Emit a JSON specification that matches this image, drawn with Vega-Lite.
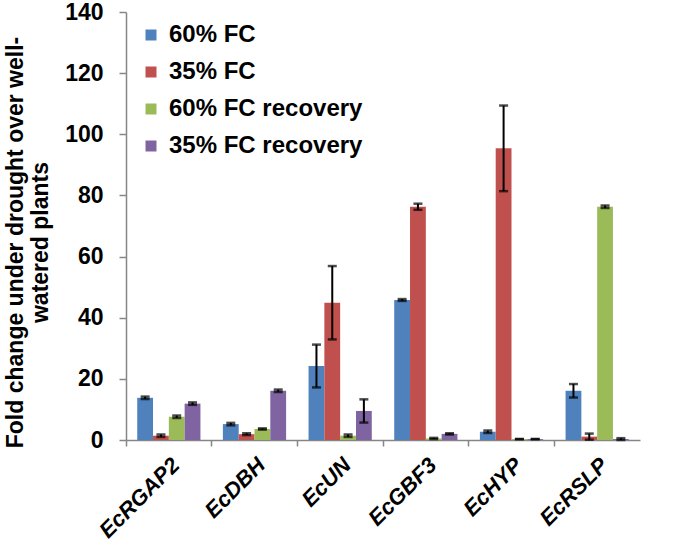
{
  "$schema": "https://vega.github.io/schema/vega-lite/v6.json",
  "width": 514,
  "height": 428,
  "autosize": {"type": "none"},
  "padding": {"left": 126, "top": 12, "right": 60, "bottom": 118},
  "background": "white",
  "config": {
    "font": "Liberation Sans",
    "view": {"stroke": null}
  },
  "data": {
    "values": [
      {"gene": "EcRGAP2", "cond": "60% FC", "value": 13.8, "err": 0.4},
      {"gene": "EcRGAP2", "cond": "35% FC", "value": 1.4, "err": 0.4},
      {"gene": "EcRGAP2", "cond": "60% FC recovery", "value": 7.6, "err": 0.4},
      {"gene": "EcRGAP2", "cond": "35% FC recovery", "value": 11.9, "err": 0.4},
      {"gene": "EcDBH", "cond": "60% FC", "value": 5.2, "err": 0.4},
      {"gene": "EcDBH", "cond": "35% FC", "value": 1.9, "err": 0.3},
      {"gene": "EcDBH", "cond": "60% FC recovery", "value": 3.6, "err": 0.2},
      {"gene": "EcDBH", "cond": "35% FC recovery", "value": 16.1, "err": 0.4},
      {"gene": "EcUN", "cond": "60% FC", "value": 24.2, "err": 7.0},
      {"gene": "EcUN", "cond": "35% FC", "value": 44.9, "err": 12.0},
      {"gene": "EcUN", "cond": "60% FC recovery", "value": 1.4, "err": 0.4},
      {"gene": "EcUN", "cond": "35% FC recovery", "value": 9.5, "err": 3.8},
      {"gene": "EcGBF3", "cond": "60% FC", "value": 45.8, "err": 0.3},
      {"gene": "EcGBF3", "cond": "35% FC", "value": 76.3, "err": 1.0},
      {"gene": "EcGBF3", "cond": "60% FC recovery", "value": 0.5, "err": 0.2},
      {"gene": "EcGBF3", "cond": "35% FC recovery", "value": 2.0, "err": 0.2},
      {"gene": "EcHYP", "cond": "60% FC", "value": 2.7, "err": 0.4},
      {"gene": "EcHYP", "cond": "35% FC", "value": 95.4, "err": 14.0},
      {"gene": "EcHYP", "cond": "60% FC recovery", "value": 0.3, "err": 0.0},
      {"gene": "EcHYP", "cond": "35% FC recovery", "value": 0.3, "err": 0.0},
      {"gene": "EcRSLP", "cond": "60% FC", "value": 16.1, "err": 2.2},
      {"gene": "EcRSLP", "cond": "35% FC", "value": 1.1, "err": 1.0},
      {"gene": "EcRSLP", "cond": "60% FC recovery", "value": 76.3, "err": 0.4},
      {"gene": "EcRSLP", "cond": "35% FC recovery", "value": 0.3, "err": 0.3}
    ]
  },
  "transform": [
    {"calculate": "datum.value - datum.err", "as": "lo"},
    {"calculate": "datum.value + datum.err", "as": "hi"}
  ],
  "encoding": {
    "x": {
      "field": "gene", "type": "nominal", "sort": null,
      "scale": {"paddingInner": 0, "paddingOuter": 0},
      "axis": {
        "title": null, "labelAngle": -45, "labelFontSize": 22, "labelFontWeight": "bold",
        "labelFontStyle": "italic", "labelColor": "black", "bandPosition": 0,
        "domainColor": "#868686", "tickColor": "#868686", "tickSize": 6, "labelPadding": 8,
        "domainWidth": 1.5, "tickWidth": 1.5
      }
    },
    "xOffset": {
      "field": "cond", "type": "nominal",
      "sort": ["60% FC", "35% FC", "60% FC recovery", "35% FC recovery"],
      "scale": {"paddingInner": 0, "paddingOuter": 0.71}
    }
  },
  "layer": [
    {
      "mark": {"type": "bar"},
      "encoding": {
        "y": {
          "field": "value", "type": "quantitative",
          "scale": {"domain": [0, 140]},
          "axis": {
            "values": [0, 20, 40, 60, 80, 100, 120, 140], "grid": false,
            "title": ["Fold change under drought over well-", "watered plants"],
            "titleFontSize": 23, "titleFontWeight": "bold", "titleColor": "black",
            "titleLineHeight": 25, "titlePadding": 12, "titleY": 230,
            "labelFontSize": 23, "labelFontWeight": "bold", "labelColor": "black",
            "labelPadding": 16, "tickSize": 7, "domainColor": "#868686", "tickColor": "#868686",
            "domainWidth": 1.5, "tickWidth": 1.5
          }
        },
        "color": {
          "field": "cond", "type": "nominal",
          "sort": ["60% FC", "35% FC", "60% FC recovery", "35% FC recovery"],
          "scale": {
            "domain": ["60% FC", "35% FC", "60% FC recovery", "35% FC recovery"],
            "range": ["#4F81BD", "#C0504D", "#9BBB59", "#8064A2"]
          },
          "legend": {
            "title": null, "orient": "none", "legendX": 13, "legendY": 11,
            "symbolType": "square", "symbolSize": 121, "symbolStrokeWidth": 0,
            "labelFontSize": 24, "labelFontWeight": "bold", "labelColor": "black",
            "labelLimit": 400, "rowPadding": 13, "labelOffset": 6
          }
        }
      }
    },
    {
      "mark": {"type": "rule", "color": "black", "strokeWidth": 2},
      "encoding": {
        "y": {"field": "lo", "type": "quantitative"},
        "y2": {"field": "hi"}
      }
    },
    {
      "mark": {"type": "tick", "color": "black", "thickness": 2.5, "size": 9},
      "encoding": {"y": {"field": "hi", "type": "quantitative"}}
    },
    {
      "mark": {"type": "tick", "color": "black", "thickness": 2.5, "size": 9},
      "encoding": {"y": {"field": "lo", "type": "quantitative"}}
    }
  ]
}
